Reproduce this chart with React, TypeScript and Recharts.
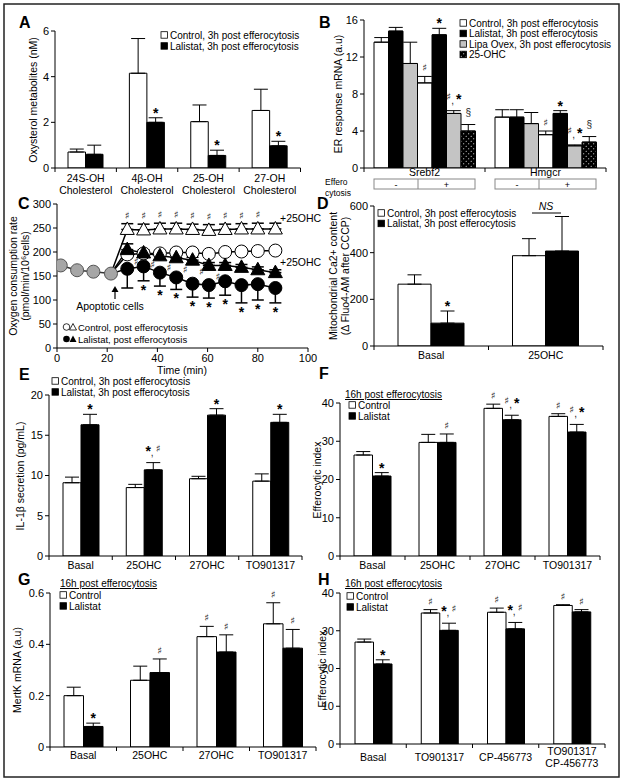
import React from "react";
import { BarChart, Bar, XAxis, YAxis, ErrorBar, LabelList, LineChart, Line } from "recharts";

const PAGE_W = 625;
const PAGE_H = 782;
const FONT = "'Liberation Sans', Arial, Helvetica, sans-serif";
const SYM_FONT = "'DejaVu Sans', sans-serif";
const GRAY = "#c4c4c4";
const DOTS = "url(#dots25)";

// ---- A: oxysterol metabolites
const aCats = ["24S-OH|Cholesterol", "4β-OH|Cholesterol", "25-OH|Cholesterol", "27-OH|Cholesterol"];
const aControl = [0.7, 4.15, 2.03, 2.52];
const aControlErr = [0.13, 1.52, 0.73, 0.93];
const aLalistat = [0.6, 2.0, 0.55, 0.97];
const aLalistatErr = [0.4, 0.2, 0.23, 0.2];
const aLalistatMarks = ["", "*", "*", "*"];

// ---- B: ER response mRNA
const bCats = ["Srebf2", "Hmgcr"];
const bCtlMinus = [13.6, 5.5];
const bCtlMinusErr = [0.5, 0.8];
const bLalMinus = [14.8, 5.5];
const bLalMinusErr = [0.4, 0.8];
const bLipaMinus = [11.3, 4.8];
const bLipaMinusErr = [2.3, 1.2];
const bCtlPlus = [9.2, 3.6];
const bCtlPlusErr = [0.7, 0.4];
const bCtlPlusMarks = ["♯", "♯"];
const bLalPlus = [14.4, 5.9];
const bLalPlusErr = [0.7, 0.3];
const bLalPlusMarks = ["*", "*"];
const bLipaPlus = [5.9, 2.4];
const bLipaPlusErr = [0.3, 0.1];
const bLipaPlusMarks = ["♯,*", "♯,*"];
const bOhc = [4.0, 2.8];
const bOhcErr = [0.7, 0.6];
const bOhcMarks = ["§", "§"];
const bLegend = ["Control, 3h post efferocytosis", "Lalistat, 3h post efferocytosis", "Lipa Ovex, 3h post efferocytosis", "25-OHC"];

// ---- C: oxygen consumption
const cPreTime = [1.5, 8, 14.5, 21.5];
const cPre = [172, 162, 159, 155];
const cPostTime = [28, 34.5, 41, 47.5, 54, 60.5, 67, 73.5, 80, 87];
const cCtl = [195, 197, 197, 199, 199, 196, 200, 201, 202, 203];
const cCtlErrUp = [5, 4, 4, 4, 4, 4, 4, 4, 4, 4];
const cCtlOhc = [247, 246, 248, 248, 247, 245, 247, 248, 248, 248];
const cCtlOhcErrUp = [12, 12, 12, 12, 11, 12, 11, 11, 12, 12];
const cCtlOhcMarks = ["♯", "♯", "♯", "♯", "♯", "♯", "♯", "♯", "♯", ""];
const cLal = [165, 170, 157, 147, 134, 131, 139, 131, 133, 125];
const cLalErrDown = [40, 30, 28, 25, 28, 27, 29, 37, 33, 31];
const cLalMarks = ["", "*", "*", "*", "*", "*", "*", "*", "*", "*"];
const cLalOhc = [205, 198, 192, 188, 183, 172, 172, 168, 163, 157];
const cLalOhcErrUp = [12, 6, 6, 6, 6, 6, 6, 6, 6, 6];
const cLalOhcMarks = ["♯", "♯", "♯", "♯", "♯", "♯", "", "", "", ""];
const cTicksX = [0, 20, 40, 60, 80, 100];
const cTicksY = [0, 50, 100, 150, 200, 250, 300];

// ---- D: mitochondrial Ca2+
const dCats = ["Basal", "25OHC"];
const dControl = [265, 387];
const dControlErr = [40, 73];
const dLalistat = [98, 407];
const dLalistatErr = [52, 148];
const dLalistatMarks = ["*", ""];

// ---- E: IL-1β secretion
const eCats = ["Basal", "25OHC", "27OHC", "TO901317"];
const eControl = [9.1, 8.5, 9.6, 9.3];
const eControlErr = [0.7, 0.4, 0.3, 0.9];
const eLalistat = [16.3, 10.7, 17.5, 16.6];
const eLalistatErr = [1.3, 0.9, 0.8, 1.0];
const eLalistatMarks = ["*", "*,♯", "*", "*"];

// ---- F: efferocytic index
const fCats = ["Basal", "25OHC", "27OHC", "TO901317"];
const fControl = [26.4, 29.7, 38.6, 36.5];
const fControlErr = [0.9, 2.1, 1.1, 0.7];
const fControlMarks = ["", "", "♯", "♯"];
const fLalistat = [20.9, 29.7, 35.6, 32.4];
const fLalistatErr = [0.9, 2.2, 1.2, 2.0];
const fLalistatMarks = ["*", "♯", "♯,*", "♯,*"];

// ---- G: MertK mRNA
const gCats = ["Basal", "25OHC", "27OHC", "TO901317"];
const gControl = [0.2, 0.26, 0.43, 0.48];
const gControlErr = [0.033, 0.055, 0.04, 0.082];
const gControlMarks = ["", "", "♯", "♯"];
const gLalistat = [0.08, 0.29, 0.37, 0.385];
const gLalistatErr = [0.013, 0.053, 0.067, 0.073];
const gLalistatMarks = ["*", "♯", "♯", "♯"];

// ---- H: efferocytic index, LXR agonists
const hCats = ["Basal", "TO901317", "CP-456773", "TO901317|CP-456773"];
const hControl = [27.0, 34.7, 34.9, 36.7];
const hControlErr = [0.8, 0.9, 1.1, 0.2];
const hControlMarks = ["", "♯", "♯", "♯"];
const hLalistat = [21.2, 30.1, 30.5, 35.0];
const hLalistatErr = [1.1, 1.9, 1.7, 0.6];
const hLalistatMarks = ["*", "*,♯", "*,♯", "♯"];

// sharp sign; tiny rotation keeps Chrome from LCD-antialiasing the thin glyph
function Sharp({ x, y }: any) {
  return (
    <text x={x} y={y} transform={`rotate(0.01 ${x} ${y})`} textAnchor="middle" fontSize={10} fontFamily={SYM_FONT} fill="#222">
      ♯
    </text>
  );
}

// one mark glyph; cap = pixel y of the error bar end it sits on
function Sym({ x, cap, ch, combo }: any) {
  if (ch === "*") {
    return <text x={x} y={combo ? cap - 7 : cap} textAnchor="middle" fontSize={14} fontWeight="bold" fontFamily={FONT} fill="#000">*</text>;
  }
  if (ch === "§") {
    return <text x={x} y={cap - 9} textAnchor="middle" fontSize={10} fontFamily={FONT} fill="#222">§</text>;
  }
  return <Sharp x={x} y={combo ? cap - 11 : cap - 5} />;
}

function MarkText({ x, cap, mark }: any) {
  if (!mark) return null;
  if (mark.includes(",")) {
    const [a, b] = mark.split(",");
    return (
      <g>
        <Sym x={x - 5} cap={cap} ch={a} combo />
        <Sym x={x + 5} cap={cap} ch={b} combo />
        <text x={x - 1} y={cap - 7} textAnchor="middle" fontSize={10} fontFamily={FONT} fill="#222">,</text>
      </g>
    );
  }
  return <Sym x={x} cap={cap} ch={mark} />;
}

function BarPanel({ plot, domain, ticks, cats, series, barSize, dy = 13, dyMulti = 14 }: any) {
  const XH = 40;
  const n = cats.length;
  const bw = (plot.x1 - plot.x0) / n;
  const data = cats.map((c: string, i: number) => {
    const row: any = { cat: c, idx: i };
    series.forEach((s: any, k: number) => {
      row["v" + k] = s.values[i];
      row["e" + k] = [0, s.errs[i]];
    });
    return row;
  });
  const renderTick = (p: any) => {
    const label = String(p.payload.value);
    const i = cats.indexOf(label);
    const lines = label.split("|");
    const first = lines.length > 1 ? dyMulti : dy;
    return (
      <g>
        <line x1={p.x - bw / 2} x2={p.x - bw / 2} y1={plot.y1} y2={plot.y1 + 4} stroke="#000" />
        {i === n - 1 && <line x1={p.x + bw / 2} x2={p.x + bw / 2} y1={plot.y1} y2={plot.y1 + 4} stroke="#000" />}
        {lines.map((l: string, k: number) => (
          <text key={k} x={p.x} y={plot.y1 + first + k * 11.5} textAnchor="middle" fontSize={10.5} fontFamily={FONT} fill="#000">
            {l}
          </text>
        ))}
      </g>
    );
  };
  const renderMark = (s: any) => (p: any) => {
    const i = Number(p.value);
    const mark = s.marks ? s.marks[i] : "";
    if (!mark) return null;
    const vb = p.viewBox && p.viewBox.width != null ? p.viewBox : p;
    const h = Math.abs(vb.height);
    const top = Math.min(vb.y, vb.y + vb.height);
    const perUnit = s.values[i] ? h / s.values[i] : 0;
    return <MarkText x={vb.x + vb.width / 2} cap={top - s.errs[i] * perUnit} mark={mark} />;
  };
  return (
    <div style={{ position: "absolute", left: 0, top: 0 }}>
      <BarChart
        width={PAGE_W}
        height={PAGE_H}
        data={data}
        barGap={0}
        barSize={barSize}
        margin={{ top: plot.y0, right: PAGE_W - plot.x1, bottom: PAGE_H - plot.y1 - XH, left: 0 }}
      >
        <XAxis dataKey="cat" height={XH} interval={0} tickLine={false} axisLine={{ stroke: "#000" }} tick={renderTick} />
        <YAxis
          width={plot.x0}
          domain={domain}
          ticks={ticks}
          allowDataOverflow
          interval={0}
          tickSize={4}
          tickLine={{ stroke: "#000" }}
          axisLine={{ stroke: "#000" }}
          tick={{ fontSize: 11, fill: "#000", fontFamily: FONT }}
        />
        {series.map((s: any, k: number) => (
          <Bar key={k} dataKey={"v" + k} fill={s.fill} stroke="#000" strokeWidth={1} isAnimationActive={false}>
            <ErrorBar dataKey={"e" + k} width={7} stroke="#000" strokeWidth={1} direction="y" />
            <LabelList dataKey="idx" content={renderMark(s)} />
          </Bar>
        ))}
      </BarChart>
    </div>
  );
}

function Marker({ shape, cx, cy, fill, stroke = "#000" }: any) {
  if (shape === "tri") {
    return <path d={`M${cx},${cy - 7.5}L${cx + 7},${cy + 5}L${cx - 7},${cy + 5}Z`} fill={fill} stroke={stroke} strokeWidth={1} />;
  }
  return <circle cx={cx} cy={cy} r={6.5} fill={fill} stroke={stroke} strokeWidth={1} />;
}

function PanelC() {
  const plot = { x0: 57, y0: 204, x1: 308, y1: 348 };
  const XH = 40;
  const perUnit = (plot.y1 - plot.y0) / 300;
  const j = cPre.length - 1;
  const rows = (vals: number[], low: number[] | null, high: number[] | null, marks: string[] | null) => [
    { t: cPreTime[j], v: cPre[j], e: [0, 0], m: "", idx: 0 },
    ...cPostTime.map((t, i) => ({
      t,
      v: vals[i],
      e: [low ? low[i] : 0, high ? high[i] : 0],
      m: marks ? marks[i] : "",
      idx: i + 1,
    })),
  ];
  const ctlOhc = rows(cCtlOhc, null, cCtlOhcErrUp, cCtlOhcMarks);
  const ctl = rows(cCtl, null, cCtlErrUp, null);
  const lalOhc = rows(cLalOhc, null, cLalOhcErrUp, cLalOhcMarks);
  const lal = rows(cLal, cLalErrDown, null, cLalMarks);
  const pre = cPreTime.map((t, i) => ({ t, v: cPre[i], idx: i }));

  const dot = (shape: string, fill: string, skipFirst: boolean, stroke = "#000") => (p: any) => {
    if (p.cy == null || (skipFirst && p.index === 0)) return <g key={"n" + p.index} />;
    return <Marker key={"d" + p.index} shape={shape} cx={p.cx} cy={p.cy} fill={fill} stroke={stroke} />;
  };
  const mark = (data: any[], mode: string) => (p: any) => {
    const r = data[Number(p.value)];
    if (!r || !r.m) return null;
    const x = p.viewBox && p.viewBox.x != null ? p.viewBox.x : p.x;
    const y = p.viewBox && p.viewBox.y != null ? p.viewBox.y : p.y;
    if (mode === "above") return <MarkText x={x} cap={y - r.e[1] * perUnit} mark={r.m} />;
    if (mode === "below") {
      return <text x={x} y={y + r.e[0] * perUnit + 14} textAnchor="middle" fontSize={14} fontWeight="bold" fontFamily={FONT}>*</text>;
    }
    return <Sharp x={x + 9} y={y + 15} />;
  };
  const lineProps = { stroke: "#000", strokeWidth: 1.5, isAnimationActive: false, dataKey: "v" };

  return (
    <div style={{ position: "absolute", left: 0, top: 0 }}>
      <LineChart
        width={PAGE_W}
        height={PAGE_H}
        margin={{ top: plot.y0, right: PAGE_W - plot.x1, bottom: PAGE_H - plot.y1 - XH, left: 0 }}
      >
        <XAxis
          type="number"
          dataKey="t"
          domain={[0, 100]}
          ticks={cTicksX}
          allowDataOverflow
          interval={0}
          height={XH}
          tickSize={4}
          tickLine={{ stroke: "#000" }}
          axisLine={{ stroke: "#000" }}
          tick={{ fontSize: 11, fill: "#000", fontFamily: FONT }}
        />
        <YAxis
          type="number"
          width={plot.x0}
          domain={[0, 300]}
          ticks={cTicksY}
          allowDataOverflow
          interval={0}
          tickSize={4}
          tickLine={{ stroke: "#000" }}
          axisLine={{ stroke: "#000" }}
          tick={{ fontSize: 11, fill: "#000", fontFamily: FONT }}
        />
        <Line {...lineProps} data={ctlOhc} dot={dot("tri", "#fff", true)}>
          <ErrorBar dataKey="e" width={6} stroke="#000" direction="y" />
          <LabelList dataKey="idx" content={mark(ctlOhc, "above")} />
        </Line>
        <Line {...lineProps} data={ctl} dot={dot("circle", "#fff", true)}>
          <ErrorBar dataKey="e" width={6} stroke="#000" direction="y" />
        </Line>
        <Line {...lineProps} data={lalOhc} dot={dot("tri", "#000", true)}>
          <ErrorBar dataKey="e" width={6} stroke="#000" direction="y" />
          <LabelList dataKey="idx" content={mark(lalOhc, "side")} />
        </Line>
        <Line {...lineProps} data={lal} dot={dot("circle", "#000", true)}>
          <ErrorBar dataKey="e" width={6} stroke="#000" direction="y" />
          <LabelList dataKey="idx" content={mark(lal, "below")} />
        </Line>
        <Line {...lineProps} data={pre} stroke="#333" dot={dot("circle", "#a6a6a6", false, "#555")} />
      </LineChart>
    </div>
  );
}

function YTitle({ x, y, lines, fs = 10.5, lh = 12 }: any) {
  return (
    <text transform={`translate(${x},${y}) rotate(-90)`} textAnchor="middle" fontSize={fs} fill="#000">
      {lines.map((l: string, i: number) => (
        <tspan key={i} x={0} dy={i === 0 ? 0 : lh}>
          {l}
        </tspan>
      ))}
    </text>
  );
}

function LegRow({ x, y, fill, label, fs = 10 }: any) {
  return (
    <g>
      <rect x={x} y={y - 3.3} width={6.5} height={6.5} fill={fill} stroke="#000" strokeWidth={0.8} />
      <text x={x + 9} y={y + 3.6} fontSize={fs} fill="#000">
        {label}
      </text>
    </g>
  );
}

function Letter({ x, y, ch }: any) {
  return (
    <text x={x} y={y} fontSize={16} fontWeight="bold" fill="#000">
      {ch}
    </text>
  );
}

function Overlay() {
  const boxes = [
    { x0: 374, mid: 418, x1: 475 },
    { x0: 495, mid: 539, x1: 596 },
  ];
  return (
    <svg width={PAGE_W} height={PAGE_H} style={{ position: "absolute", left: 0, top: 0 }} fontFamily={FONT}>
      <defs>
        <pattern id="dots25" width="5" height="5" patternUnits="userSpaceOnUse">
          <rect width="5" height="5" fill="#000" />
          <circle cx="1.2" cy="1.2" r="0.55" fill="#fff" />
          <circle cx="3.7" cy="3.7" r="0.55" fill="#fff" />
        </pattern>
      </defs>
      <rect x={4} y={4} width={615} height={773} fill="none" stroke="#222" strokeWidth={1.5} />

      <Letter x={19} y={28} ch="A" />
      <Letter x={319} y={28} ch="B" />
      <Letter x={18} y={209} ch="C" />
      <Letter x={317} y={209} ch="D" />
      <Letter x={19} y={380} ch="E" />
      <Letter x={319} y={379} ch="F" />
      <Letter x={18} y={585} ch="G" />
      <Letter x={318} y={585} ch="H" />

      <YTitle x={37} y={100} lines={["Oxysterol metabolites (nM)"]} />
      <YTitle x={342} y={94} lines={["ER response mRNA (a.u)"]} />
      <YTitle x={17} y={276} lines={["Oxygen consumption rate", "(pmol/min/10⁶cells)"]} />
      <YTitle x={337} y={276} lines={["Mitochondrial Ca2+ content", "(Δ Fluo4-AM after CCCP)"]} />
      <YTitle x={24} y={476} lines={["IL-1β secretion (pg/mL)"]} />
      <YTitle x={321} y={480} lines={["Efferocytic index"]} />
      <YTitle x={21} y={670} lines={["MertK mRNA (a.u)"]} />
      <YTitle x={326} y={669} lines={["Efferocytic index"]} />

      {/* A legend */}
      <LegRow x={161} y={35} fill="#fff" label={"Control, 3h post efferocytosis"} />
      <LegRow x={161} y={46} fill="#000" label={"Lalistat, 3h post efferocytosis"} />

      {/* B legend */}
      {bLegend.map((l, i) => (
        <LegRow key={l} x={460} y={23 + i * 10.5} fill={["#fff", "#000", GRAY, DOTS][i]} label={l} />
      ))}
      <text x={325} y={185} fontSize={8.5}>Effero</text>
      <text x={325} y={196} fontSize={8.5}>cytosis</text>
      {boxes.map((b, i) => (
        <g key={i}>
          <rect x={b.x0} y={179} width={b.x1 - b.x0} height={10} fill="none" stroke="#888" strokeWidth={1} />
          <line x1={b.mid} x2={b.mid} y1={179} y2={189} stroke="#888" />
          <text x={(b.x0 + b.mid) / 2} y={187.5} fontSize={9} textAnchor="middle">-</text>
          <text x={(b.mid + b.x1) / 2} y={187.5} fontSize={9} textAnchor="middle">+</text>
        </g>
      ))}

      {/* C extras */}
      <text x={280} y={222} fontSize={10.5}>+25OHC</text>
      <text x={280} y={266} fontSize={10.5}>+25OHC</text>
      <line x1={115} x2={115} y1={299} y2={290} stroke="#000" strokeWidth={1.2} />
      <path d="M111.5,292 L115,286 L118.5,292 Z" fill="#000" />
      <text x={110} y={310} fontSize={10.5} textAnchor="middle">Apoptotic cells</text>
      <text x={182} y={374} fontSize={10.5} textAnchor="middle">Time (min)</text>
      <circle cx={66.5} cy={327} r={3.3} fill="#fff" stroke="#000" strokeWidth={0.8} />
      <path d="M73,323.5 L76.5,330 L69.5,330 Z" fill="#fff" stroke="#000" strokeWidth={0.8} />
      <text x={78} y={330.5} fontSize={9.5}>Control, post efferocytosis</text>
      <circle cx={66.5} cy={339} r={3.3} fill="#000" />
      <path d="M73,335.5 L76.5,342 L69.5,342 Z" fill="#000" />
      <text x={78} y={342.5} fontSize={9.5}>Lalistat, post efferocytosis</text>

      {/* D legend */}
      <LegRow x={378} y={213} fill="#fff" label={"Control, 3h post efferocytosis"} />
      <LegRow x={378} y={223.5} fill="#000" label={"Lalistat, 3h post efferocytosis"} />
      <text x={546} y={210} fontSize={10.5} fontStyle="italic" textAnchor="middle">NS</text>
      <line x1={532} x2={561} y1={213} y2={213} stroke="#000" strokeWidth={1} />

      {/* E legend */}
      <LegRow x={52} y={381} fill="#fff" label={"Control, 3h post efferocytosis"} />
      <LegRow x={52} y={392} fill="#000" label={"Lalistat, 3h post efferocytosis"} />

      {/* F legend */}
      <text x={345} y={398} fontSize={10} style={{ textDecoration: "underline" }}>16h post efferocytosis</text>
      <LegRow x={349} y={405} fill="#fff" label="Control" />
      <LegRow x={349} y={416} fill="#000" label="Lalistat" />

      {/* G legend */}
      <text x={60} y={587} fontSize={10} style={{ textDecoration: "underline" }}>16h post efferocytosis</text>
      <LegRow x={60} y={595} fill="#fff" label="Control" />
      <LegRow x={60} y={606} fill="#000" label="Lalistat" />

      {/* H legend */}
      <text x={345} y={587} fontSize={10} style={{ textDecoration: "underline" }}>16h post efferocytosis</text>
      <LegRow x={347} y={596} fill="#fff" label="Control" />
      <LegRow x={347} y={607} fill="#000" label="Lalistat" />
    </svg>
  );
}

const ctlS = (values: number[], errs: number[], marks?: string[]) => ({ values, errs, marks, fill: "#fff" });
const lalS = (values: number[], errs: number[], marks?: string[]) => ({ values, errs, marks, fill: "#000" });

export default function App() {
  return (
    <div style={{ position: "absolute", left: 0, top: 0, width: PAGE_W, height: PAGE_H, background: "#fff", fontFamily: FONT }}>
      <BarPanel
        plot={{ x0: 55, y0: 31, x1: 300.5, y1: 168 }}
        domain={[0, 6]}
        ticks={[0, 2, 4, 6]}
        cats={aCats}
        barSize={17.5}
        dyMulti={14}
        series={[ctlS(aControl, aControlErr), lalS(aLalistat, aLalistatErr, aLalistatMarks)]}
      />
      <BarPanel
        plot={{ x0: 364, y0: 20, x1: 606, y1: 168 }}
        domain={[0, 16]}
        ticks={[0, 4, 8, 12, 16]}
        cats={bCats}
        barSize={14.5}
        dy={8}
        series={[
          { values: bCtlMinus, errs: bCtlMinusErr, fill: "#fff" },
          { values: bLalMinus, errs: bLalMinusErr, fill: "#000" },
          { values: bLipaMinus, errs: bLipaMinusErr, fill: GRAY },
          { values: bCtlPlus, errs: bCtlPlusErr, marks: bCtlPlusMarks, fill: "#fff" },
          { values: bLalPlus, errs: bLalPlusErr, marks: bLalPlusMarks, fill: "#000" },
          { values: bLipaPlus, errs: bLipaPlusErr, marks: bLipaPlusMarks, fill: GRAY },
          { values: bOhc, errs: bOhcErr, marks: bOhcMarks, fill: DOTS },
        ]}
      />
      <PanelC />
      <BarPanel
        plot={{ x0: 374, y0: 206, x1: 603, y1: 346 }}
        domain={[0, 600]}
        ticks={[0, 200, 400, 600]}
        cats={dCats}
        barSize={33}
        dy={13}
        series={[ctlS(dControl, dControlErr), lalS(dLalistat, dLalistatErr, dLalistatMarks)]}
      />
      <BarPanel
        plot={{ x0: 49, y0: 395, x1: 302, y1: 556 }}
        domain={[0, 20]}
        ticks={[0, 5, 10, 15, 20]}
        cats={eCats}
        barSize={18}
        dy={13}
        series={[ctlS(eControl, eControlErr), lalS(eLalistat, eLalistatErr, eLalistatMarks)]}
      />
      <BarPanel
        plot={{ x0: 340, y0: 403, x1: 600, y1: 556 }}
        domain={[0, 40]}
        ticks={[0, 10, 20, 30, 40]}
        cats={fCats}
        barSize={18.5}
        dy={13}
        series={[ctlS(fControl, fControlErr, fControlMarks), lalS(fLalistat, fLalistatErr, fLalistatMarks)]}
      />
      <BarPanel
        plot={{ x0: 50, y0: 593, x1: 316, y1: 747 }}
        domain={[0, 0.6]}
        ticks={[0, 0.2, 0.4, 0.6]}
        cats={gCats}
        barSize={19.5}
        dy={12}
        series={[ctlS(gControl, gControlErr, gControlMarks), lalS(gLalistat, gLalistatErr, gLalistatMarks)]}
      />
      <BarPanel
        plot={{ x0: 340, y0: 593, x1: 605, y1: 744 }}
        domain={[0, 40]}
        ticks={[0, 10, 20, 30, 40]}
        cats={hCats}
        barSize={18.5}
        dy={17}
        dyMulti={11}
        series={[ctlS(hControl, hControlErr, hControlMarks), lalS(hLalistat, hLalistatErr, hLalistatMarks)]}
      />
      <Overlay />
    </div>
  );
}
